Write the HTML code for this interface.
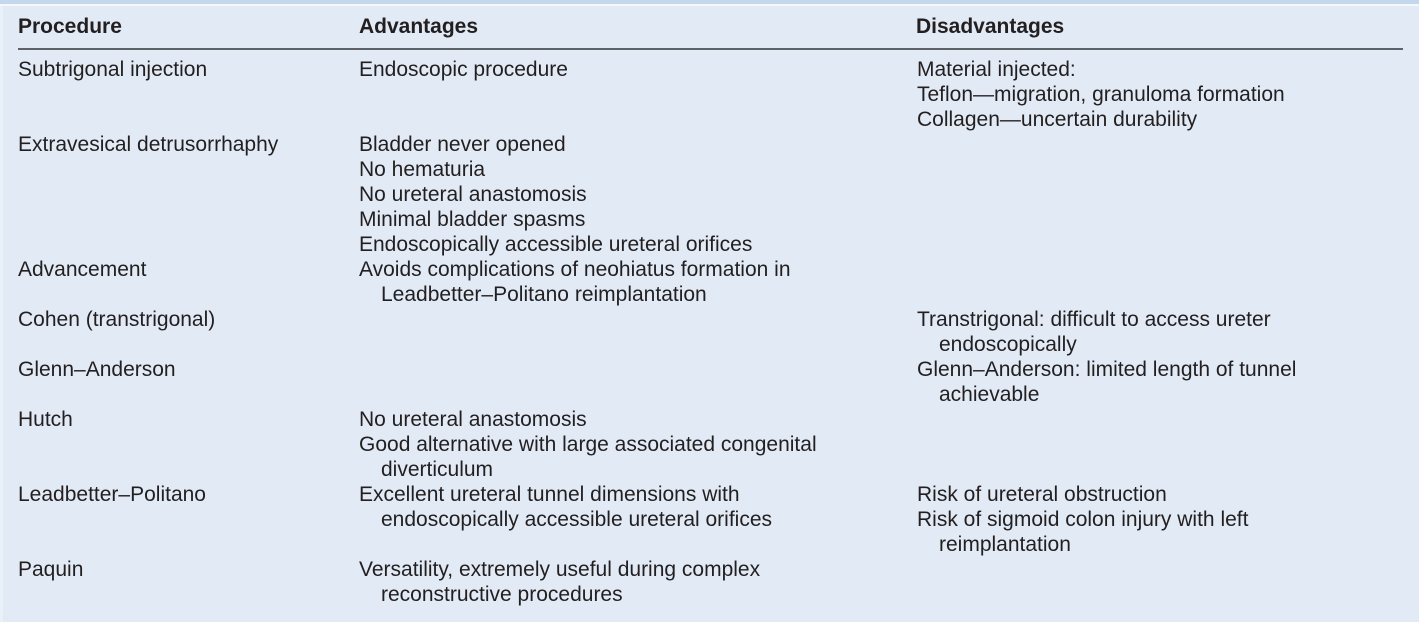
<!DOCTYPE html>
<html><head><meta charset="utf-8"><style>
html,body{margin:0;padding:0}
body{width:1419px;height:622px;background:#e1eaf5;position:relative;overflow:hidden;font-family:"Liberation Sans",Arial,sans-serif;font-size:21px;color:#231f20}
.band{position:absolute;left:0;top:0;width:1419px;height:4px;background:#c4d7ec}
.wl{position:absolute;left:0;top:4px;width:1419px;height:2px;background:#f4f7fb}
.ls{position:absolute;left:0;top:6px;width:3px;height:616px;background:#eaf0f8}
.rule{position:absolute;left:18px;top:48px;width:1385px;height:2px;background:#5d6268}
.h{position:absolute;top:14px;font-weight:bold;line-height:25px;white-space:nowrap}
.col{position:absolute;top:56.6px;line-height:25px;white-space:pre}
.i{padding-left:22px}
</style></head><body>
<div class="band"></div><div class="wl"></div><div class="ls"></div>
<div class="h" style="left:18px">Procedure</div>
<div class="h" style="left:359px">Advantages</div>
<div class="h" style="left:916px">Disadvantages</div>
<div class="rule"></div>
<div class="col" style="left:18px"><div>Subtrigonal injection</div><div> </div><div> </div><div>Extravesical detrusorrhaphy</div><div> </div><div> </div><div> </div><div> </div><div>Advancement</div><div> </div><div>Cohen (transtrigonal)</div><div> </div><div>Glenn–Anderson</div><div> </div><div>Hutch</div><div> </div><div> </div><div>Leadbetter–Politano</div><div> </div><div> </div><div>Paquin</div></div>
<div class="col" style="left:359px"><div>Endoscopic procedure</div><div> </div><div> </div><div>Bladder never opened</div><div>No hematuria</div><div>No ureteral anastomosis</div><div>Minimal bladder spasms</div><div>Endoscopically accessible ureteral orifices</div><div>Avoids complications of neohiatus formation in</div><div class="i">Leadbetter–Politano reimplantation</div><div> </div><div> </div><div> </div><div> </div><div>No ureteral anastomosis</div><div>Good alternative with large associated congenital</div><div class="i">diverticulum</div><div>Excellent ureteral tunnel dimensions with</div><div class="i">endoscopically accessible ureteral orifices</div><div> </div><div>Versatility, extremely useful during complex</div><div class="i">reconstructive procedures</div></div>
<div class="col" style="left:917px"><div>Material injected:</div><div>Teflon—migration, granuloma formation</div><div>Collagen—uncertain durability</div><div> </div><div> </div><div> </div><div> </div><div> </div><div> </div><div> </div><div>Transtrigonal: difficult to access ureter</div><div class="i">endoscopically</div><div>Glenn–Anderson: limited length of tunnel</div><div class="i">achievable</div><div> </div><div> </div><div> </div><div>Risk of ureteral obstruction</div><div>Risk of sigmoid colon injury with left</div><div class="i">reimplantation</div></div>
</body></html>
